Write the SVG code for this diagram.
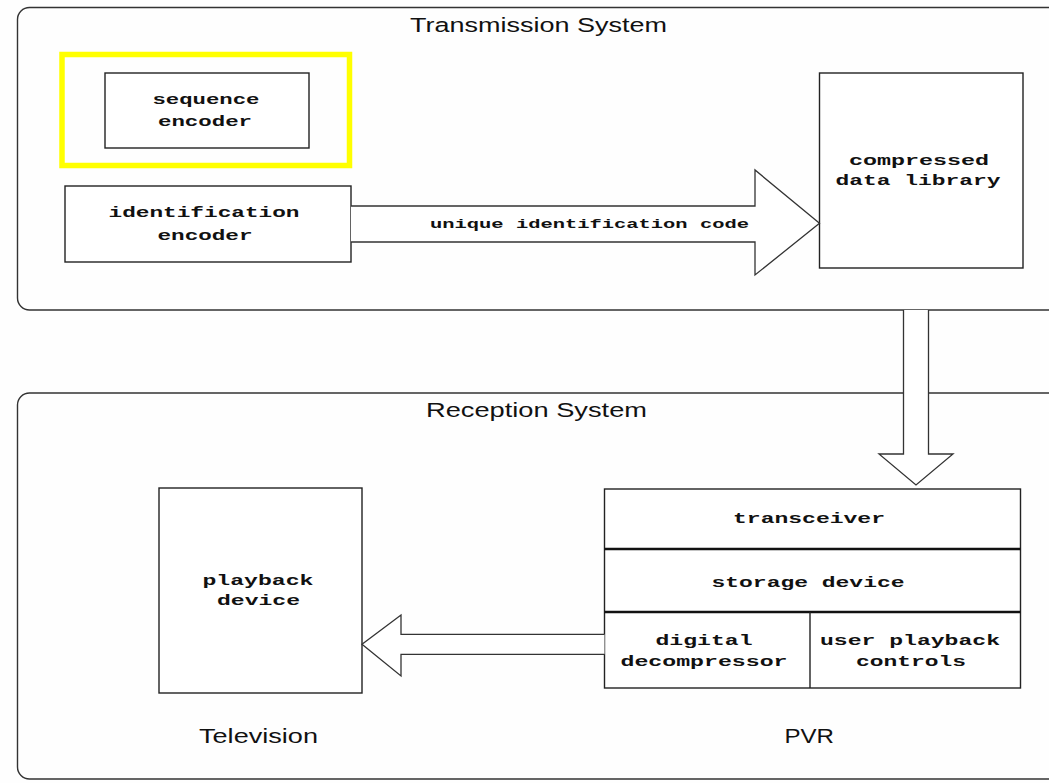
<svg xmlns="http://www.w3.org/2000/svg" width="1049" height="783" viewBox="0 0 1049 783">
<style>
.sys{fill:none;stroke:#333;stroke-width:1.4}
.box{fill:#fff;stroke:#222;stroke-width:1.4}
.div{stroke:#111;stroke-width:2.4}
.arr{fill:#fff;stroke:#333;stroke-width:1.3;stroke-linejoin:miter}
.mono{font-family:"Liberation Mono","DejaVu Sans Mono",monospace;font-weight:bold;font-size:15px;fill:#111;text-anchor:middle}
.lbl{font-family:"Liberation Mono","DejaVu Sans Mono",monospace;font-weight:bold;font-size:13px;fill:#111;text-anchor:middle}
.ttl{font-family:"Liberation Sans",Arial,sans-serif;font-size:20.5px;fill:#111}
</style>
<rect width="1049" height="783" fill="#fefefe"/>
<g id="transmission-system">
<rect class="sys" x="17.5" y="7.5" width="1060" height="302.5" rx="12"/>
<text class="ttl" x="410" y="31.5" textLength="257" lengthAdjust="spacingAndGlyphs">Transmission System</text>
</g>
<g id="reception-system">
<rect class="sys" x="17.5" y="393" width="1060" height="386" rx="12"/>
<text class="ttl" x="426" y="417" textLength="221" lengthAdjust="spacingAndGlyphs">Reception System</text>
</g>
<g id="sequence-encoder">
<rect x="62" y="54.5" width="287.5" height="111" fill="none" stroke="#ffff00" stroke-width="5.5"/>
<rect class="box" x="105" y="73" width="204" height="75"/>
<text class="mono" x="206" y="104" textLength="107" lengthAdjust="spacingAndGlyphs">sequence</text>
<text class="mono" x="205" y="126" textLength="94" lengthAdjust="spacingAndGlyphs">encoder</text>
</g>
<g id="identification-encoder">
<rect class="box" x="65" y="186" width="286" height="76"/>
<text class="mono" x="204" y="217" textLength="191" lengthAdjust="spacingAndGlyphs">identification</text>
<text class="mono" x="205" y="240" textLength="95" lengthAdjust="spacingAndGlyphs">encoder</text>
</g>
<g id="compressed-data-library">
<rect class="box" x="819.5" y="73" width="203.5" height="195"/>
<text class="mono" x="919" y="165" textLength="140" lengthAdjust="spacingAndGlyphs">compressed</text>
<text class="mono" x="918" y="185" textLength="165" lengthAdjust="spacingAndGlyphs">data library</text>
</g>
<g id="playback-device">
<rect class="box" x="159" y="488" width="203" height="205"/>
<text class="mono" x="258" y="585" textLength="111" lengthAdjust="spacingAndGlyphs">playback</text>
<text class="mono" x="258.5" y="605" textLength="83" lengthAdjust="spacingAndGlyphs">device</text>
<text class="ttl" x="199" y="743" textLength="119" lengthAdjust="spacingAndGlyphs">Television</text>
</g>
<g id="pvr">
<rect class="box" x="604.5" y="489" width="416" height="199"/>
<line class="div" x1="604.5" y1="549" x2="1020.5" y2="549"/>
<line class="div" x1="604.5" y1="612" x2="1020.5" y2="612"/>
<line class="box" x1="810" y1="612" x2="810" y2="688"/>
<text class="mono" x="809" y="523" textLength="152" lengthAdjust="spacingAndGlyphs">transceiver</text>
<text class="mono" x="808" y="587" textLength="193" lengthAdjust="spacingAndGlyphs">storage device</text>
<text class="mono" x="704" y="645" textLength="97" lengthAdjust="spacingAndGlyphs">digital</text>
<text class="mono" x="704" y="666" textLength="167" lengthAdjust="spacingAndGlyphs">decompressor</text>
<text class="mono" x="910" y="645" textLength="180" lengthAdjust="spacingAndGlyphs">user playback</text>
<text class="mono" x="911" y="666" textLength="110" lengthAdjust="spacingAndGlyphs">controls</text>
<text class="ttl" x="784.5" y="743" textLength="49.5" lengthAdjust="spacingAndGlyphs">PVR</text>
</g>
<g id="connectors">
<path class="arr" d="M351,206 H755 V170 L819.5,223.3 L755,275 V242 H351"/>
<text class="lbl" x="589.5" y="228" textLength="319" lengthAdjust="spacingAndGlyphs">unique identification code</text>
<path class="arr" d="M903.5,310 V454 H879 L916,485 L953,454 H928.5 V310"/>
<path class="arr" d="M604.5,634.3 H401 V615 L362,644.3 L401,676 V654.3 H604.5"/>
</g>
</svg>
